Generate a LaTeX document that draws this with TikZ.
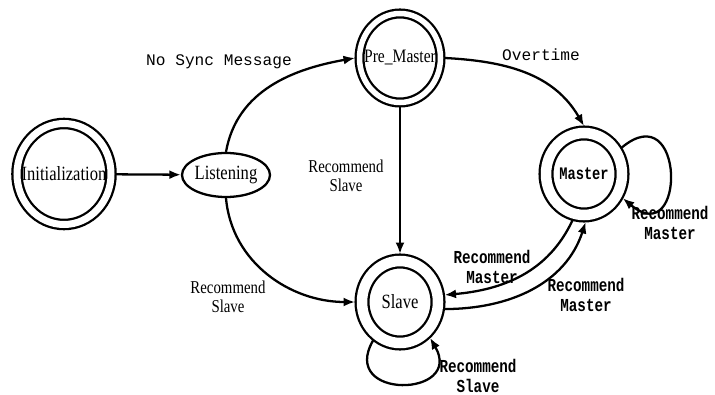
\documentclass[tikz,border=0pt]{standalone}
\usepackage{fontspec}
\setmainfont{Liberation Serif}
\newfontfamily\condserif[FakeStretch=0.82]{Liberation Serif}
\newfontfamily\condmono[FakeStretch=0.78]{Liberation Mono}
\newfontfamily\plainmono{Liberation Mono}
\usetikzlibrary{shapes.geometric,arrows.meta,positioning}
% text wider than its ring: keep the ring size fixed
\newcommand{\squeezed}[1]{\makebox[0pt]{#1}}

\begin{document}
\begin{tikzpicture}[
    statenode/.style={ellipse, draw, line width=1.3pt, inner sep=0pt, font=\condserif\fontsize{11.5}{12}\selectfont},
    ringstate/.style={statenode, double, double distance=#1},
    trans/.style={-{Latex[length=2.3mm,width=1.8mm]}, line width=1.3pt},
    monolabel/.style={font=\plainmono\fontsize{9.2}{11}\selectfont},
    reclabel/.style={align=center, font=\condmono\bfseries\fontsize{10.4}{11}\selectfont},
    serlabel/.style={align=center, font=\condserif\fontsize{10.3}{11}\selectfont}
]
\useasboundingbox (0,0) rectangle (14.3,7.88);

% States
\node[ringstate=1.4mm, minimum width=1.88cm, minimum height=2.02cm, outer sep=1mm] (init) at (1.28,4.40) {\squeezed{Initialization}};
\node[statenode, minimum width=1.76cm, minimum height=0.88cm] (listen) at (4.52,4.38) {\squeezed{Listening}};
\node[ringstate=1.1mm, minimum width=1.62cm, minimum height=1.78cm, outer sep=0.9mm, font=\condserif\fontsize{10.8}{12}\selectfont] (pre) at (8.00,6.72) {\squeezed{Pre\_Master}};
\node[ringstate=2.1mm, minimum width=1.52cm, minimum height=1.64cm, outer sep=1.4mm, font=\condmono\bfseries\fontsize{10}{12}\selectfont] (master) at (11.68,4.40) {\squeezed{Master}};
\node[ringstate=2.1mm, minimum width=1.52cm, minimum height=1.64cm, outer sep=1.4mm] (slave) at (8.00,1.84) {\squeezed{Slave}};

% Transitions
\draw[trans] (init) -- (listen);
\draw[trans] (listen.north) to[out=80,in=190] (pre.west);
\draw[trans] (listen.south) to[out=-85,in=180] (slave.west);
\draw[trans] (pre) -- (slave);
\draw[trans] (pre.east) to[out=-3,in=120] (master.north);
\draw[trans] (master.-104) to[out=-115,in=5] (slave.9);
\draw[trans] (slave.-9) to[out=0,in=-108] (master.-88);
\draw[trans] (master.35) to[out=40,in=-40,looseness=4.2] (master.-32);
\draw[trans] (slave.-125) to[out=-120,in=-60,looseness=3.1] (slave.-50);

% Transition labels
\node[monolabel] (nosync) at (4.38,6.64) {No Sync Message};
\node[monolabel] (overtime) at (10.82,6.78) {Overtime};
\node[serlabel] (recslaveA) at (6.92,4.36) {Recommend\\Slave};
\node[serlabel] (recslaveB) at (4.56,1.94) {Recommend\\Slave};
\node[reclabel] (recmasterA) at (9.84,2.54) {Recommend\\Master};
\node[reclabel] (recmasterB) at (11.72,1.98) {Recommend\\Master};
\node[reclabel] (recmasterC) at (13.40,3.42) {Recommend\\Master};
\node[reclabel] (recslaveC) at (9.56,0.36) {Recommend\\Slave};

\end{tikzpicture}
\end{document}
